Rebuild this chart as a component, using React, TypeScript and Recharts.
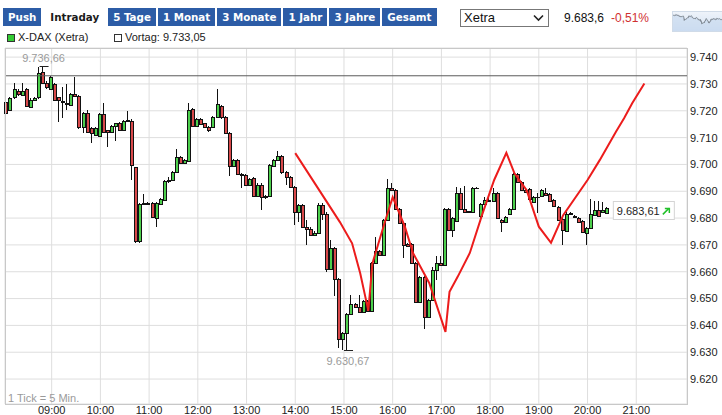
import React from "react";
import {
  ComposedChart,
  Bar,
  Line,
  XAxis,
  YAxis,
  CartesianGrid,
  ReferenceLine,
  ReferenceDot,
  AreaChart,
  Area,
} from "recharts";

// 5-minute candles, first one at 08:05
const candleOpen = [
  9723.1, 9720.3, 9725.0, 9727.5, 9725.9, 9728.0, 9721.5, 9724.0, 9725.0, 9734.5,
  9730.4, 9728.3, 9729.9, 9725.0, 9723.6, 9722.5, 9722.1, 9726.1, 9725.5, 9713.8,
  9719.0, 9713.4, 9710.9, 9710.6, 9718.8, 9712.8, 9712.2, 9714.3, 9715.3, 9713.0,
  9716.3, 9716.3, 9698.9, 9671.6, 9685.2, 9685.5, 9685.5, 9679.9, 9685.2, 9686.7,
  9693.8, 9694.2, 9697.3, 9702.6, 9700.4, 9701.4, 9720.5, 9714.3, 9716.8, 9715.3,
  9714.0, 9713.8, 9717.5, 9721.8, 9717.5, 9711.6, 9699.4, 9701.6, 9696.4, 9696.0,
  9692.5, 9694.8, 9688.3, 9692.5, 9687.7, 9688.3, 9699.5, 9701.6, 9703.0, 9697.0,
  9695.4, 9691.7, 9682.1, 9684.8, 9676.8, 9676.1, 9673.7, 9674.6, 9684.8, 9681.7,
  9661.2, 9668.7, 9657.3, 9634.8, 9637.3, 9644.3, 9647.9, 9646.7, 9644.9, 9649.2,
  9645.5, 9663.3, 9667.7, 9666.2, 9679.3, 9691.1, 9690.5, 9683.3, 9678.1, 9670.4,
  9670.4, 9663.1, 9648.8, 9658.0, 9643.3, 9649.5, 9660.6, 9663.3, 9662.4, 9683.3,
  9675.5, 9679.0, 9689.2, 9683.3, 9682.4, 9682.4, 9691.3, 9680.7, 9685.1, 9686.7,
  9686.4, 9689.2, 9679.3, 9678.6, 9681.6, 9683.3, 9696.4, 9693.6, 9690.5, 9690.8,
  9686.1, 9687.7, 9688.2, 9689.2, 9689.0, 9686.7, 9684.2, 9679.5, 9675.3, 9681.5,
  9680.8, 9679.9, 9678.9, 9674.5, 9676.4, 9681.1, 9683.0, 9682.4, 9682.0,
];
const candleHigh = [
  9728.0, 9725.0, 9730.2, 9728.0, 9730.4, 9728.5, 9724.6, 9725.0, 9736.2, 9736.66,
  9731.0, 9733.0, 9730.2, 9725.3, 9729.0, 9729.9, 9726.5, 9732.7, 9726.0, 9719.4,
  9720.4, 9713.8, 9713.8, 9719.2, 9723.0, 9713.0, 9714.6, 9715.6, 9715.8, 9716.6,
  9719.9, 9716.8, 9699.2, 9685.5, 9689.0, 9686.0, 9686.0, 9685.9, 9687.4, 9694.2,
  9695.5, 9697.7, 9705.6, 9703.0, 9702.0, 9723.0, 9721.0, 9717.2, 9717.2, 9715.6,
  9714.3, 9718.2, 9728.0, 9722.2, 9718.0, 9712.0, 9702.0, 9702.0, 9696.8, 9696.4,
  9694.8, 9695.4, 9693.0, 9692.9, 9688.7, 9700.2, 9702.0, 9705.0, 9703.4, 9697.4,
  9695.8, 9692.1, 9685.2, 9685.2, 9679.3, 9676.5, 9675.0, 9685.8, 9685.8, 9682.1,
  9671.8, 9669.1, 9657.7, 9637.7, 9644.7, 9651.3, 9648.3, 9651.3, 9649.6, 9649.6,
  9663.7, 9673.1, 9668.1, 9679.7, 9694.4, 9692.9, 9690.9, 9683.7, 9678.5, 9670.8,
  9670.8, 9663.5, 9658.4, 9658.4, 9649.7, 9661.9, 9666.0, 9666.0, 9683.7, 9683.7,
  9680.3, 9691.7, 9691.3, 9691.9, 9682.8, 9691.7, 9691.5, 9685.5, 9687.9, 9688.6,
  9691.2, 9689.6, 9679.7, 9680.9, 9683.7, 9696.8, 9696.8, 9694.0, 9690.9, 9691.2,
  9688.1, 9689.5, 9690.9, 9691.1, 9689.4, 9687.1, 9684.6, 9679.9, 9682.1, 9682.4,
  9681.2, 9680.3, 9679.3, 9676.8, 9687.0, 9686.5, 9686.5, 9686.0, 9684.0,
];
const candleLow = [
  9718.4, 9719.8, 9724.5, 9725.5, 9725.5, 9721.5, 9721.0, 9723.5, 9724.5, 9730.0,
  9728.3, 9727.8, 9723.5, 9715.9, 9717.2, 9720.3, 9721.7, 9725.2, 9713.3, 9711.6,
  9711.8, 9708.1, 9710.5, 9710.2, 9711.8, 9706.6, 9711.8, 9708.8, 9712.6, 9712.6,
  9715.9, 9694.2, 9670.6, 9670.8, 9684.8, 9684.8, 9680.0, 9676.8, 9684.8, 9686.3,
  9693.0, 9693.8, 9697.0, 9700.0, 9700.0, 9701.0, 9713.8, 9713.8, 9714.6, 9713.4,
  9712.2, 9713.4, 9717.2, 9717.0, 9711.2, 9695.7, 9699.0, 9696.0, 9691.1, 9692.0,
  9692.0, 9687.9, 9687.9, 9682.9, 9687.3, 9687.9, 9699.0, 9701.2, 9696.6, 9692.3,
  9691.3, 9677.4, 9678.4, 9676.4, 9670.0, 9673.3, 9673.3, 9674.2, 9679.3, 9660.0,
  9660.8, 9651.1, 9631.5, 9631.0, 9630.67, 9643.9, 9646.3, 9644.5, 9644.5, 9645.1,
  9645.1, 9662.9, 9665.8, 9665.8, 9678.9, 9690.1, 9682.9, 9677.7, 9665.0, 9669.2,
  9662.7, 9648.4, 9648.4, 9638.6, 9642.9, 9649.1, 9656.9, 9662.0, 9662.0, 9675.1,
  9673.1, 9678.6, 9682.9, 9682.0, 9682.0, 9682.0, 9691.1, 9678.6, 9684.7, 9686.0,
  9686.0, 9679.5, 9674.9, 9678.2, 9681.2, 9682.9, 9693.2, 9690.2, 9689.5, 9686.6,
  9685.7, 9682.0, 9687.8, 9688.2, 9686.1, 9684.1, 9678.9, 9669.9, 9674.9, 9681.1,
  9679.9, 9678.2, 9674.5, 9669.9, 9676.0, 9680.7, 9680.4, 9682.0, 9681.6,
];
const candleClose = [
  9719.3, 9724.6, 9728.0, 9726.1, 9727.5, 9721.8, 9724.2, 9724.6, 9733.9, 9730.4,
  9728.7, 9732.7, 9724.0, 9724.2, 9723.2, 9722.9, 9726.1, 9725.5, 9713.8, 9719.0,
  9712.2, 9711.8, 9713.4, 9718.8, 9712.2, 9712.2, 9714.3, 9715.3, 9713.0, 9716.3,
  9716.5, 9699.8, 9671.6, 9685.2, 9685.5, 9685.2, 9680.3, 9685.5, 9687.0, 9693.8,
  9694.2, 9697.3, 9702.6, 9700.4, 9701.6, 9720.3, 9714.3, 9716.8, 9715.0, 9713.8,
  9712.8, 9717.8, 9722.5, 9717.5, 9711.6, 9699.4, 9701.6, 9696.4, 9696.0, 9692.3,
  9694.4, 9688.3, 9692.5, 9687.7, 9688.3, 9699.8, 9701.6, 9703.0, 9697.0, 9695.4,
  9691.7, 9682.1, 9684.8, 9676.8, 9676.1, 9673.7, 9674.6, 9684.8, 9681.7, 9661.2,
  9668.7, 9657.3, 9634.8, 9637.3, 9644.3, 9647.9, 9646.7, 9644.9, 9649.2, 9645.5,
  9663.3, 9667.7, 9666.2, 9679.3, 9691.1, 9690.5, 9683.3, 9678.1, 9670.0, 9669.6,
  9663.1, 9648.8, 9658.0, 9643.3, 9649.3, 9660.6, 9663.3, 9662.4, 9683.3, 9675.5,
  9679.9, 9689.2, 9683.3, 9682.4, 9682.5, 9691.3, 9691.3, 9685.1, 9686.7, 9686.4,
  9689.2, 9679.9, 9678.6, 9680.5, 9683.3, 9696.4, 9693.6, 9690.6, 9689.9, 9687.0,
  9687.7, 9687.9, 9690.5, 9688.6, 9686.5, 9684.5, 9679.3, 9675.5, 9681.7, 9682.0,
  9680.3, 9678.6, 9674.9, 9676.4, 9681.7, 9683.0, 9680.8, 9683.0, 9683.61,
];

// hand drawn trend line on the chart
const drawTimes = [
  "14:00", "14:55", "15:10", "15:20", "15:30", "15:35", "15:40", "15:50", "16:00", "16:15",
  "16:25", "16:45", "17:05", "17:10", "17:20", "17:35", "17:50", "18:05", "18:20", "18:30",
  "18:45", "19:00", "19:15", "19:30", "20:00", "20:15", "20:35", "20:45", "20:55", "21:10",
];
const drawValues = [
  9704.2, 9678.5, 9670.6, 9659.4, 9645.5, 9663.1, 9668.1, 9678.2, 9687.8, 9676.8,
  9667.0, 9655.8, 9637.6, 9652.5, 9658.1, 9667.0, 9681.1, 9694.2, 9704.3, 9696.7,
  9690.4, 9676.8, 9670.8, 9681.1, 9694.2, 9701.6, 9712.2, 9717.2, 9722.8, 9730.2,
];

const yTicks = [9620, 9630, 9640, 9650, 9660, 9670, 9680, 9690, 9700, 9710, 9720, 9730, 9740];
const hourTicks = [
  "09:00", "10:00", "11:00", "12:00", "13:00", "14:00", "15:00",
  "16:00", "17:00", "18:00", "19:00", "20:00", "21:00",
];
const tabs = ["Push", "Intraday", "5 Tage", "1 Monat", "3 Monate", "1 Jahr", "3 Jahre", "Gesamt"];
const previousClose = 9733.05;
const lastPrice = "9.683,6";
const changePct = "-0,51%";

const SANS = "'Liberation Sans', Arial, sans-serif";
const GREEN = "#4ccf4c";
const RED = "#d8484a";

const fmt = (v: number, dec = 0) => {
  const [i, f] = v.toFixed(dec).split(".");
  return i.replace(/\B(?=(\d{3})+(?!\d))/g, ".") + (f ? "," + f : "");
};

const pad = (n: number) => String(n).padStart(2, "0");
const slots: string[] = [];
for (let m = 8 * 60 + 5; m <= 22 * 60; m += 5) {
  slots.push(`${pad(Math.floor(m / 60))}:${pad(m % 60)}`);
}

const data = slots.map((t, i) => {
  const k = drawTimes.indexOf(t);
  return {
    t,
    o: candleOpen[i],
    h: candleHigh[i],
    l: candleLow[i],
    c: candleClose[i],
    draw: k >= 0 ? drawValues[k] : undefined,
  };
});

const hiIdx = candleHigh.indexOf(Math.max(...candleHigh));
const loIdx = candleLow.indexOf(Math.min(...candleLow));
const lastIdx = candleClose.length - 1;

function Candle(props: any) {
  const { x, y, width, height, payload } = props;
  if (!payload || payload.o == null || x == null) return <g />;
  const top = Math.min(y, y + height);
  const bot = Math.max(y, y + height);
  const span = payload.h - payload.l;
  const py = (v: number) => (span > 0 ? top + ((payload.h - v) / span) * (bot - top) : top);
  const px = Math.floor(x + width / 2);
  const up = payload.c >= payload.o;
  const bTop = Math.round(py(Math.max(payload.o, payload.c))) + 0.5;
  const bBot = Math.round(py(Math.min(payload.o, payload.c))) + 0.5;
  return (
    <g>
      <line x1={px - 0.5} x2={px - 0.5} y1={Math.round(top)} y2={Math.round(bot)} stroke="#111" strokeWidth={1} />
      {bBot - bTop < 1 ? (
        <line x1={px - 2} x2={px + 2} y1={bTop} y2={bTop} stroke="#111" strokeWidth={1} />
      ) : (
        <rect
          x={px - 1.5}
          y={bTop}
          width={3}
          height={bBot - bTop}
          fill={up ? GREEN : RED}
          stroke="#111"
          strokeWidth={1}
        />
      )}
    </g>
  );
}

function ExtremeMark(props: any, label: string, below: boolean) {
  const { cx, cy } = props;
  if (cx == null) return <g />;
  return (
    <g>
      <line x1={cx - 4} x2={cx + 5} y1={Math.round(cy) + 0.5} y2={Math.round(cy) + 0.5} stroke="#222" />
      <text
        x={cx}
        y={below ? cy + 15 : cy - 4}
        textAnchor="middle"
        fontSize={11}
        fontFamily={SANS}
        fill="#9a9a9a"
      >
        {label}
      </text>
    </g>
  );
}

function LastBox(props: any) {
  const { cx, cy } = props;
  if (cx == null) return <g />;
  return (
    <g>
      <rect x={cx + 5.5} y={Math.round(cy) - 6.5} width={61} height={18} fill="#fff" stroke="#d4d4d4" />
      <text x={cx + 9} y={cy + 7} fontSize={11} fontFamily={SANS} fill="#222">
        {fmt(candleClose[lastIdx], 2)}
      </text>
      <line x1={cx + 55} y1={cy + 6} x2={cx + 61} y2={cy} stroke="#22c02a" strokeWidth={1.5} />
      <polyline
        points={`${cx + 57},${cy} ${cx + 61.5},${cy} ${cx + 61.5},${cy + 4.5}`}
        fill="none"
        stroke="#22c02a"
        strokeWidth={1.5}
      />
    </g>
  );
}

export default function App() {
  const thumb = candleClose.map((v) => ({ v }));
  return (
    <div
      style={{
        position: "fixed",
        left: 0,
        top: 0,
        width: 722,
        height: 415,
        overflow: "hidden",
        background: "#fff",
        fontFamily: SANS,
      }}
    >
      {/* period tabs */}
      <div style={{ position: "absolute", left: 3, top: 8, display: "flex", gap: 2 }}>
        {tabs.map((t) => (
          <div
            key={t}
            style={{
              height: 18,
              lineHeight: "18px",
              padding: t === "Intraday" ? "0 7px" : "0 5px",
              background: t === "Intraday" ? "#fff" : "#2c5ca6",
              color: t === "Intraday" ? "#1a1a1a" : "#fff",
              fontFamily: "Verdana, 'DejaVu Sans', sans-serif",
              fontWeight: "bold",
              fontSize: 10.3,
            }}
          >
            {t}
          </div>
        ))}
      </div>

      {/* exchange selector */}
      <div
        style={{
          position: "absolute",
          left: 460,
          top: 9,
          width: 89,
          height: 18,
          boxSizing: "border-box",
          border: "1px solid #777",
          fontSize: 13,
          lineHeight: "16px",
          paddingLeft: 3,
          color: "#111",
        }}
      >
        Xetra
        <svg style={{ position: "absolute", right: 4, top: 4 }} width={11} height={8}>
          <polyline points="1,1.5 5.5,6 10,1.5" fill="none" stroke="#222" strokeWidth={1.6} />
        </svg>
      </div>
      <div style={{ position: "absolute", left: 564, top: 11, fontSize: 12, color: "#111" }}>{lastPrice}</div>
      <div style={{ position: "absolute", left: 611, top: 11, fontSize: 12, color: "#d03030" }}>{changePct}</div>
      <div
        style={{
          position: "absolute",
          left: 672,
          top: 11,
          width: 52,
          height: 19,
          background: "linear-gradient(#eef3fa, #d3e1f3)",
          border: "1px solid #d0dbe8",
        }}
      >
        <AreaChart width={52} height={19} data={thumb} margin={{ top: 2, right: 0, bottom: 0, left: 0 }}>
          <YAxis hide domain={[9560, 9740]} />
          <Area dataKey="v" stroke="#7d8690" strokeWidth={1} fill="#c6d8ef" fillOpacity={0.6} isAnimationActive={false} />
        </AreaChart>
      </div>

      {/* legend */}
      <div
        style={{
          position: "absolute",
          left: 7,
          top: 34,
          width: 8,
          height: 8,
          boxSizing: "border-box",
          border: "1px solid #333",
          background: "#33cc33",
        }}
      />
      <div style={{ position: "absolute", left: 18, top: 31, fontSize: 11, color: "#222" }}>X-DAX (Xetra)</div>
      <div
        style={{
          position: "absolute",
          left: 114,
          top: 34,
          width: 8,
          height: 8,
          boxSizing: "border-box",
          border: "1px solid #333",
          background: "#fff",
        }}
      />
      <div style={{ position: "absolute", left: 125, top: 31, fontSize: 11, color: "#222" }}>
        Vortag: {fmt(previousClose, 2)}
      </div>

      <div style={{ position: "absolute", left: 0, top: 0 }}>
        <ComposedChart
          width={722}
          height={430}
          data={data}
          margin={{ top: 48, right: 0, bottom: 6, left: 5 }}
        >
          <CartesianGrid stroke="#dedede" />
          <XAxis
            dataKey="t"
            type="category"
            ticks={hourTicks}
            interval={0}
            tickLine={false}
            axisLine={false}
            tickSize={0}
            tickMargin={2}
            height={20}
            tick={{ fill: "#222", fontSize: 11, fontFamily: SANS }}
          />
          <YAxis
            orientation="right"
            type="number"
            domain={[9610.7, 9743.4]}
            ticks={yTicks}
            interval={0}
            allowDataOverflow
            tickLine={false}
            axisLine={false}
            tickSize={0}
            tickMargin={3}
            width={35}
            tickFormatter={(v: number) => fmt(v)}
            tick={{ fill: "#222", fontSize: 11, fontFamily: SANS, textAnchor: "start" }}
          />
          <ReferenceLine y={previousClose} stroke="#5a5a5a" strokeWidth={1} />
          <Bar
            dataKey={(d: any) => (d.o == null ? undefined : [d.l, d.h])}
            shape={(p: any) => <Candle {...p} />}
            isAnimationActive={false}
          />
          <Line
            dataKey="draw"
            type="linear"
            connectNulls
            stroke="#ec1c1c"
            strokeWidth={2}
            dot={false}
            activeDot={false}
            isAnimationActive={false}
          />
          <ReferenceDot
            x={slots[hiIdx]}
            y={candleHigh[hiIdx]}
            shape={(p: any) => ExtremeMark(p, fmt(candleHigh[hiIdx], 2), false)}
          />
          <ReferenceDot
            x={slots[loIdx]}
            y={candleLow[loIdx]}
            shape={(p: any) => ExtremeMark(p, fmt(candleLow[loIdx], 2), true)}
          />
          <ReferenceDot x={slots[lastIdx]} y={candleClose[lastIdx]} shape={(p: any) => <LastBox {...p} />} />
        </ComposedChart>
      </div>

      {/* plot frame */}
      <div
        style={{
          position: "absolute",
          left: 5,
          top: 48,
          width: 683,
          height: 357,
          boxSizing: "border-box",
          border: "1px solid #c8c8c8",
          pointerEvents: "none",
        }}
      />
      <div style={{ position: "absolute", left: 8, top: 392, fontSize: 11, color: "#9a9a9a" }}>
        1 Tick = 5 Min.
      </div>
    </div>
  );
}
